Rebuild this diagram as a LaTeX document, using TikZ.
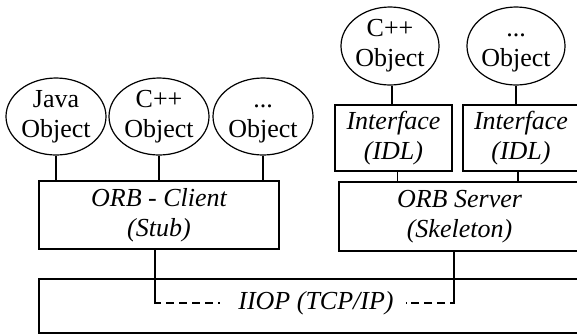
\documentclass[tikz,border=0pt]{standalone}
\usepackage{fontspec}
\setmainfont{Liberation Serif}
\usetikzlibrary{shapes.geometric}
\begin{document}
\begin{tikzpicture}[x=1pt,y=-1pt,
  every node/.style={font=\fontsize{26}{30}\selectfont, align=center},
  obj/.style={draw, ellipse, line width=1.2pt, inner sep=0pt},
  objL/.style={obj, minimum width=100pt, minimum height=77pt},
  objR/.style={obj, minimum width=90pt, minimum height=78pt},
  box/.style={draw, line width=1.2pt, inner sep=0pt, font=\fontsize{26}{30}\selectfont\itshape},
  wire/.style={line width=1.2pt},
  dwire/.style={line width=1.2pt, dash pattern=on 8pt off 5pt}]
\useasboundingbox (0,0) rectangle (577,333);
\begin{scope}
\clip (0,0) rectangle (577,333);
% objects
\node[objL] (java) at (56,116.5) {Java\\Object};
\node[objL] (cppL) at (159,116.5) {C++\\Object};
\node[objL] (dotL) at (263,116.5) {\vphantom{C++}...\\Object};
\node[objR] (cppR) at (390,46) {C++\\Object};
\node[objR] (dotR) at (516,46) {\vphantom{C++}...\\Object};
% boxes
\node[box, minimum width=240pt, minimum height=68pt] (client) at (159,215) {ORB - Client\\(Stub)};
\node[box, minimum width=117pt, minimum height=66pt] (if1) at (393.5,138) {Interface\\(IDL)};
\node[box, minimum width=116pt, minimum height=66pt] (if2) at (521,138) {Interface\\(IDL)};
\node[box, minimum width=241pt, minimum height=69pt] (server) at (459.5,216.5) {ORB Server\\(Skeleton)};
\node[draw, line width=1.2pt, minimum width=550pt, minimum height=54pt, inner sep=0pt] (iiop) at (314,306) {};
\node[font=\fontsize{26}{30}\selectfont\itshape, inner sep=0pt] (lbl) at (316,303) {IIOP (TCP/IP)};
\end{scope}
% connectors
\draw[wire] (java.south) -- (java.south |- client.north);
\draw[wire] (cppL.south) -- (cppL.south |- client.north);
\draw[wire] (dotL.south) -- (dotL.south |- client.north);
\draw[wire] ([xshift=2pt]cppR.south) -- ([xshift=2pt]cppR.south |- if1.north);
\draw[wire] (dotR.south) -- (dotR.south |- if2.north);
\draw[wire] ([xshift=4pt]if1.south) -- ([xshift=4pt]if1.south |- server.north);
\draw[wire] ([xshift=-3pt]if2.south) -- ([xshift=-3pt]if2.south |- server.north);
\coordinate (cl) at ([xshift=-4pt]client.south |- lbl);
\coordinate (sr) at ([xshift=-5.5pt]server.south |- lbl);
\draw[wire] ([xshift=-4pt]client.south) -- (cl) -- ([xshift=6pt]cl);
\draw[dwire] ([xshift=11pt]cl) -- ([xshift=-18pt]lbl.west);
\draw[wire] ([xshift=-5.5pt]server.south) -- (sr) -- ([xshift=-4pt]sr);
\draw[dwire] ([xshift=-9pt]sr) -- ([xshift=12pt]lbl.east);
\end{tikzpicture}
\end{document}
